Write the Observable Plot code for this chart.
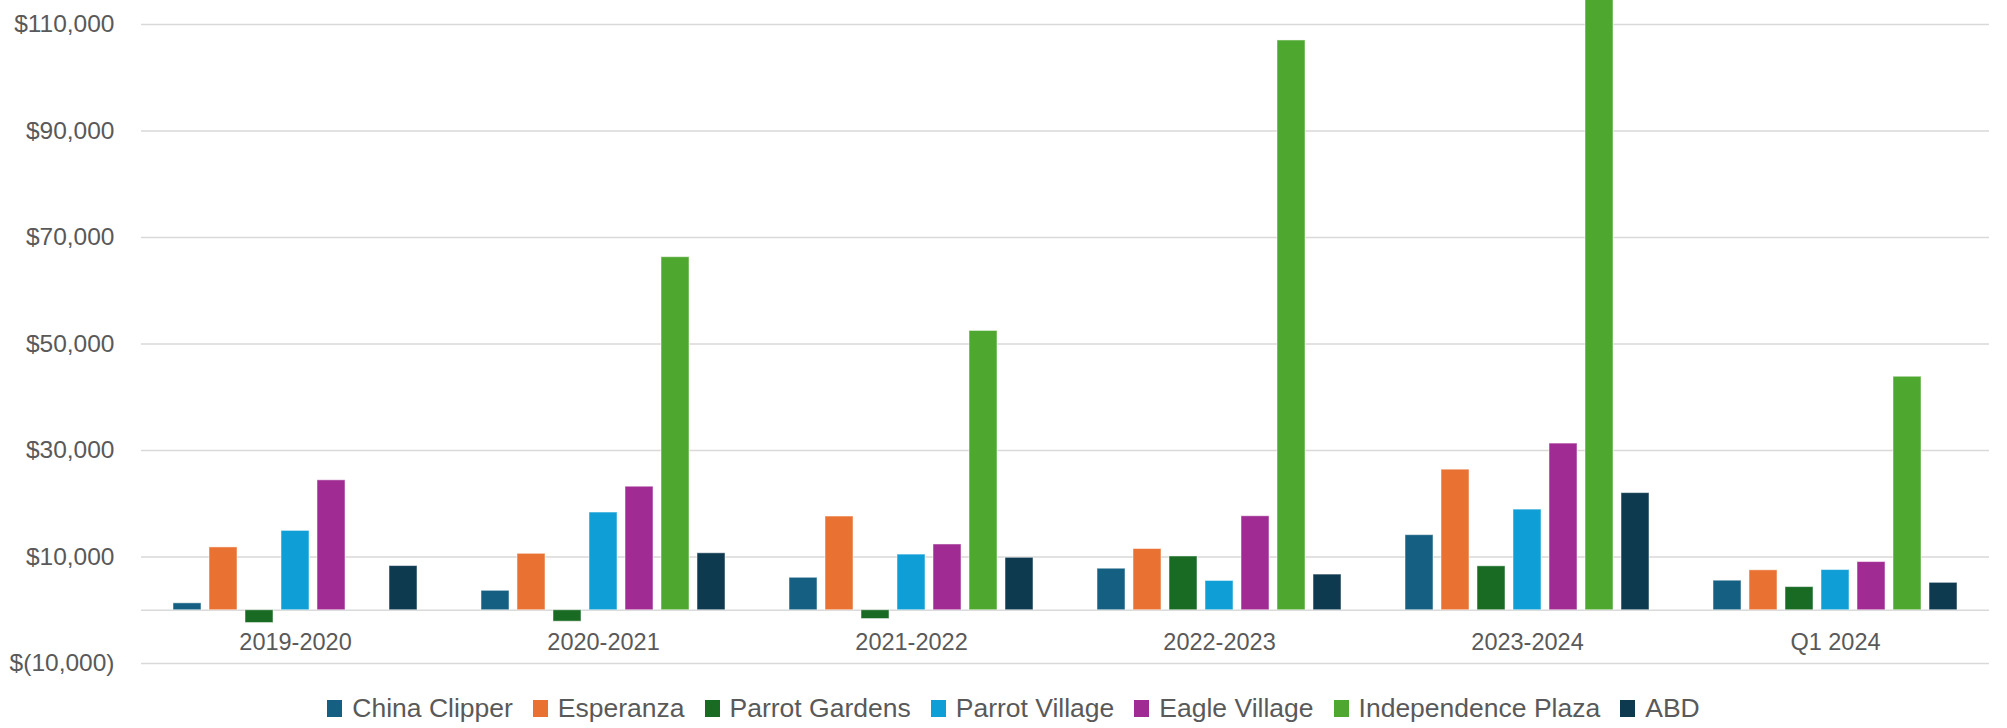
<!DOCTYPE html>
<html>
<head>
<meta charset="utf-8">
<script src="https://cdn.jsdelivr.net/npm/d3@7"></script>
<script src="https://cdn.jsdelivr.net/npm/@observablehq/plot@0.6"></script>
<style>
  html, body { margin: 0; padding: 0; background: #fff; }
  body { width: 2007px; height: 728px; overflow: hidden; font-family: "Liberation Sans", Arial, sans-serif; }
  #legend {
    display: flex; justify-content: center; align-items: center;
    height: 40px; color: #595959; font-size: 26.5px; padding-left: 20px;
  }
  .item { display: flex; align-items: center; margin: 0 10px; }
  .swatch { width: 15px; height: 17px; margin-right: 10px; }
</style>
</head>
<body>
<div id="chart"></div>
<div id="legend"></div>
<script>
// Periods along the horizontal axis
const periods = ["2019-2020", "2020-2021", "2021-2022", "2022-2023", "2023-2024", "Q1 2024"];

// Properties (one bar each per period)
const properties = ["China Clipper", "Esperanza", "Parrot Gardens", "Parrot Village", "Eagle Village", "Independence Plaza", "ABD"];
const propertyColors = ["#156082", "#E97132", "#196B24", "#0F9ED5", "#A02B93", "#4EA72E", "#0E3A50"];

// Net amounts per property, in period order
const chinaClipper      = [1300, 3650, 6100, 7800, 14100, 5550];
const esperanza         = [11800, 10600, 17600, 11500, 26400, 7500];
const parrotGardens     = [-2400, -2150, -1650, 10100, 8250, 4350];
const parrotVillage     = [14900, 18350, 10450, 5500, 18900, 7550];
const eagleVillage      = [24400, 23200, 12350, 17650, 31300, 9050];
const independencePlaza = [0, 66300, 52450, 107000, 117000, 43850];
const abd               = [8300, 10700, 9850, 6700, 22000, 5150];

// Value axis ticks
const yTicks = [-10000, 10000, 30000, 50000, 70000, 90000, 110000];

const seriesValues = [chinaClipper, esperanza, parrotGardens, parrotVillage, eagleVillage, independencePlaza, abd];
const rows = [];
periods.forEach((period, i) => {
  properties.forEach((property, j) => {
    rows.push({period, property, value: seriesValues[j][i]});
  });
});

const num = d3.format(",");
const money = d => d < 0 ? `$(${num(-d)})` : `$${num(d)}`;
const font = "'Liberation Sans', Arial, sans-serif";

const chart = Plot.plot({
  width: 2007,
  height: 688,
  marginLeft: 141,
  marginRight: 18,
  marginTop: 24,
  marginBottom: 25,
  style: {fontFamily: font, color: "#595959", background: "#fff", overflow: "visible"},
  fx: {domain: periods, paddingInner: 0, paddingOuter: 0, label: null},
  x: {domain: properties, paddingInner: 0.21, paddingOuter: 0.86, axis: null},
  y: {domain: [-10000, 110000], label: null},
  color: {domain: properties, range: propertyColors},
  marks: [
    Plot.ruleY(yTicks, {stroke: "#d9d9d9", strokeWidth: 1.5}),
    Plot.ruleY([0], {stroke: "#d9d9d9", strokeWidth: 1.5}),
    Plot.barY(rows, {fx: "period", x: "property", y: "value", fill: "property", stroke: "#fff", strokeOpacity: 0.5, strokeWidth: 1}),
    Plot.axisY({ticks: yTicks, tickFormat: money, tickSize: 0, tickPadding: 27, fontSize: 24.5, fill: "#595959", label: null}),
    Plot.axisFx({anchor: "bottom", tickSize: 0, tickPadding: 0, dy: -30, fontSize: 23.5, fill: "#595959", label: null})
  ]
});
document.getElementById("chart").appendChild(chart);

// Legend row below the chart
const legend = d3.select("#legend");
properties.forEach((p, i) => {
  const item = legend.append("div").attr("class", "item");
  item.append("div").attr("class", "swatch").style("background", propertyColors[i]);
  item.append("span").text(p);
});
</script>
</body>
</html>
